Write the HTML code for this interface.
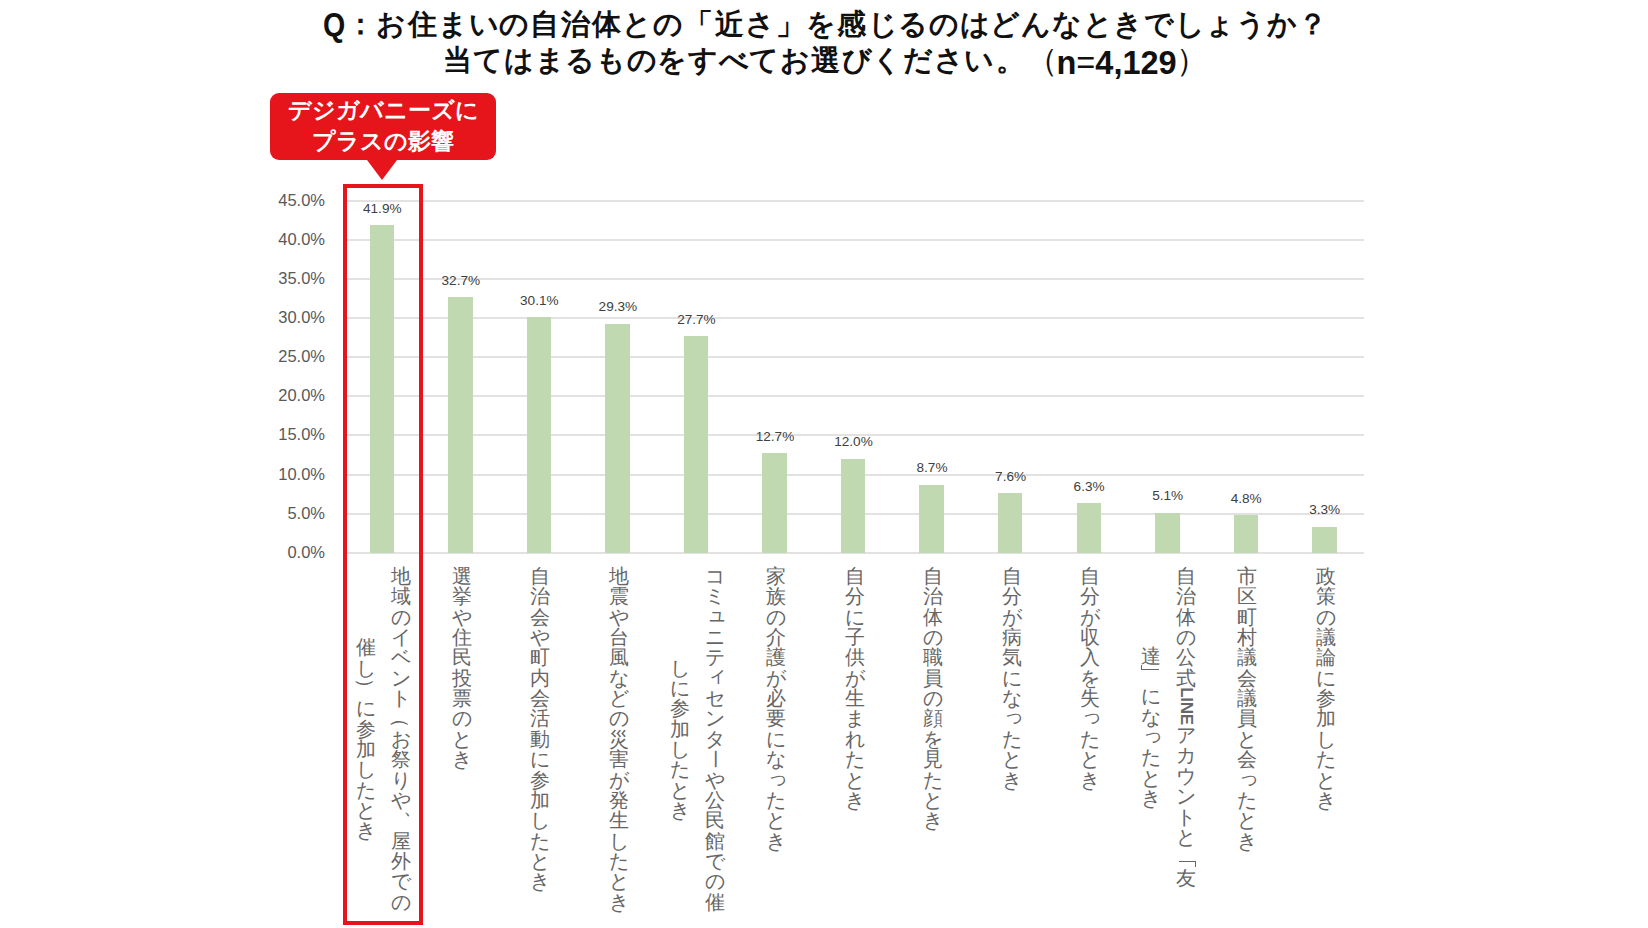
<!DOCTYPE html>
<html lang="ja"><head><meta charset="utf-8">
<style>
html,body{margin:0;padding:0;background:#fff;width:1648px;height:928px;overflow:hidden;position:relative;font-family:"Liberation Sans",sans-serif}
.t{position:absolute;font-weight:bold;color:#111;font-size:29px;letter-spacing:1.0px;white-space:nowrap;line-height:36px}
.tc{position:absolute;width:30.7px;text-align:center;font-weight:bold;color:#111;font-size:29px;line-height:36px;white-space:nowrap}
.nn{font-size:32.5px;letter-spacing:0}
.pp{font-weight:normal;font-size:32px;letter-spacing:0}
.gl{position:absolute;left:343.0px;width:1021.0px;height:2px;background:#e2e2e2}
.yl{position:absolute;left:250px;width:75px;text-align:right;font-size:16.5px;line-height:20px;color:#595959}
.bar{position:absolute;width:24.5px;background:#c1d9b0}
.dl{position:absolute;width:80px;text-align:center;font-size:13.6px;line-height:16px;color:#404040}
.vc{position:absolute;width:20.35px;height:20.35px;line-height:20.35px;text-align:center;font-size:20px;color:#666;white-space:nowrap}
.vc.rot{transform:rotate(90deg)}
.vc.cho{transform:rotate(90deg) scaleY(0.75)}
.brk{position:absolute;box-sizing:border-box}
.vc.com{transform:translate(12.5px,-13.5px)}
.vc.sm{transform:translate(2px,-3px)}
.vc.lat span{position:absolute;left:50%;top:50%;transform:translate(-50%,-50%) rotate(90deg);font-size:17px;font-weight:bold;line-height:20px;letter-spacing:-0.3px}
.box{position:absolute;left:343px;top:184px;width:72px;height:733px;border:4px solid #e5151b}
.bub{position:absolute;left:270px;top:93px;width:226px;height:67px;background:#e5151b;border-radius:9px}
.ptr{position:absolute;left:366.8px;top:159.5px;width:0;height:0;border-left:15.4px solid transparent;border-right:15.4px solid transparent;border-top:20px solid #e5151b}
.bt{position:absolute;left:270px;top:95px;width:226px;text-align:center;color:#fff;font-weight:bold;font-size:23px;line-height:31px}
</style></head><body>
<span class="tc nn" style="left:323px;top:7px;width:auto;transform:scaleX(0.88);transform-origin:0 0">Q</span><span class="tc" style="left:345.45px;top:6px">：</span><span class="tc" style="left:376.15px;top:6px">お</span><span class="tc" style="left:406.85px;top:6px">住</span><span class="tc" style="left:437.55px;top:6px">ま</span><span class="tc" style="left:468.25px;top:6px">い</span><span class="tc" style="left:498.95px;top:6px">の</span><span class="tc" style="left:529.65px;top:6px">自</span><span class="tc" style="left:560.35px;top:6px">治</span><span class="tc" style="left:591.05px;top:6px">体</span><span class="tc" style="left:621.75px;top:6px">と</span><span class="tc" style="left:652.45px;top:6px">の</span><span class="tc" style="left:683.15px;top:6px">「</span><span class="tc" style="left:713.85px;top:6px">近</span><span class="tc" style="left:744.55px;top:6px">さ</span><span class="tc" style="left:775.25px;top:6px">」</span><span class="tc" style="left:805.95px;top:6px">を</span><span class="tc" style="left:836.65px;top:6px">感</span><span class="tc" style="left:867.35px;top:6px">じ</span><span class="tc" style="left:898.05px;top:6px">る</span><span class="tc" style="left:928.75px;top:6px">の</span><span class="tc" style="left:959.45px;top:6px">は</span><span class="tc" style="left:990.15px;top:6px">ど</span><span class="tc" style="left:1020.85px;top:6px">ん</span><span class="tc" style="left:1051.55px;top:6px">な</span><span class="tc" style="left:1082.25px;top:6px">と</span><span class="tc" style="left:1112.95px;top:6px">き</span><span class="tc" style="left:1143.65px;top:6px">で</span><span class="tc" style="left:1174.35px;top:6px">し</span><span class="tc" style="left:1205.05px;top:6px">ょ</span><span class="tc" style="left:1235.75px;top:6px">う</span><span class="tc" style="left:1266.45px;top:6px">か</span><span class="tc" style="left:1297.15px;top:6px">？</span>
<span class="tc" style="left:442.15px;top:42px">当</span><span class="tc" style="left:472.85px;top:42px">て</span><span class="tc" style="left:503.55px;top:42px">は</span><span class="tc" style="left:534.25px;top:42px">ま</span><span class="tc" style="left:564.95px;top:42px">る</span><span class="tc" style="left:595.65px;top:42px">も</span><span class="tc" style="left:626.35px;top:42px">の</span><span class="tc" style="left:657.05px;top:42px">を</span><span class="tc" style="left:687.75px;top:42px">す</span><span class="tc" style="left:718.45px;top:42px">べ</span><span class="tc" style="left:749.15px;top:42px">て</span><span class="tc" style="left:779.85px;top:42px">お</span><span class="tc" style="left:810.55px;top:42px">選</span><span class="tc" style="left:841.25px;top:42px">び</span><span class="tc" style="left:871.95px;top:42px">く</span><span class="tc" style="left:902.65px;top:42px">だ</span><span class="tc" style="left:933.35px;top:42px">さ</span><span class="tc" style="left:964.05px;top:42px">い</span><span class="tc" style="left:994.75px;top:42px">。</span><span class="tc pp" style="left:1026.45px;top:42px">（</span><span class="tc nn" style="left:1056.5px;top:44.5px;width:auto">n<span style="font-weight:normal">=</span>4,129</span><span class="tc pp" style="left:1176px;top:42px">）</span>
<div class="gl" style="top:552px"></div>
<div class="yl" style="top:541.70px">0.0%</div>
<div class="gl" style="top:513px"></div>
<div class="yl" style="top:502.61px">5.0%</div>
<div class="gl" style="top:474px"></div>
<div class="yl" style="top:463.52px">10.0%</div>
<div class="gl" style="top:434px"></div>
<div class="yl" style="top:424.43px">15.0%</div>
<div class="gl" style="top:395px"></div>
<div class="yl" style="top:385.34px">20.0%</div>
<div class="gl" style="top:356px"></div>
<div class="yl" style="top:346.25px">25.0%</div>
<div class="gl" style="top:317px"></div>
<div class="yl" style="top:307.16px">30.0%</div>
<div class="gl" style="top:278px"></div>
<div class="yl" style="top:268.07px">35.0%</div>
<div class="gl" style="top:239px"></div>
<div class="yl" style="top:228.98px">40.0%</div>
<div class="gl" style="top:200px"></div>
<div class="yl" style="top:189.89px">45.0%</div>
<div class="bar" style="left:369.67px;top:225.13px;height:327.57px"></div>
<div class="dl" style="left:342.27px;top:200.63px">41.9%</div>
<span class="vc" style="left:390.59px;top:566.00px">地</span>
<span class="vc" style="left:390.59px;top:586.35px">域</span>
<span class="vc" style="left:390.59px;top:606.70px">の</span>
<span class="vc" style="left:390.59px;top:627.05px">イ</span>
<span class="vc" style="left:390.59px;top:647.40px">ベ</span>
<span class="vc" style="left:390.59px;top:667.75px">ン</span>
<span class="vc" style="left:390.59px;top:688.10px">ト</span>
<span class="vc rot" style="left:390.59px;top:708.45px">（</span>
<span class="vc" style="left:390.59px;top:728.80px">お</span>
<span class="vc" style="left:390.59px;top:749.15px">祭</span>
<span class="vc" style="left:390.59px;top:769.50px">り</span>
<span class="vc" style="left:390.59px;top:789.85px">や</span>
<span class="vc com" style="left:390.59px;top:810.20px">、</span>
<span class="vc" style="left:390.59px;top:830.55px">屋</span>
<span class="vc" style="left:390.59px;top:850.90px">外</span>
<span class="vc" style="left:390.59px;top:871.25px">で</span>
<span class="vc" style="left:390.59px;top:891.60px">の</span>
<span class="vc" style="left:355.59px;top:637.23px">催</span>
<span class="vc" style="left:355.59px;top:657.58px">し</span>
<span class="vc rot" style="left:355.59px;top:677.93px">）</span>
<span class="vc" style="left:355.59px;top:698.28px">に</span>
<span class="vc" style="left:355.59px;top:718.63px">参</span>
<span class="vc" style="left:355.59px;top:738.98px">加</span>
<span class="vc" style="left:355.59px;top:759.33px">し</span>
<span class="vc" style="left:355.59px;top:779.68px">た</span>
<span class="vc" style="left:355.59px;top:800.03px">と</span>
<span class="vc" style="left:355.59px;top:820.38px">き</span>
<div class="bar" style="left:448.21px;top:297.05px;height:255.65px"></div>
<div class="dl" style="left:420.81px;top:272.55px">32.7%</div>
<span class="vc" style="left:451.63px;top:566.00px">選</span>
<span class="vc" style="left:451.63px;top:586.35px">挙</span>
<span class="vc" style="left:451.63px;top:606.70px">や</span>
<span class="vc" style="left:451.63px;top:627.05px">住</span>
<span class="vc" style="left:451.63px;top:647.40px">民</span>
<span class="vc" style="left:451.63px;top:667.75px">投</span>
<span class="vc" style="left:451.63px;top:688.10px">票</span>
<span class="vc" style="left:451.63px;top:708.45px">の</span>
<span class="vc" style="left:451.63px;top:728.80px">と</span>
<span class="vc" style="left:451.63px;top:749.15px">き</span>
<div class="bar" style="left:526.75px;top:317.38px;height:235.32px"></div>
<div class="dl" style="left:499.35px;top:292.88px">30.1%</div>
<span class="vc" style="left:530.17px;top:566.00px">自</span>
<span class="vc" style="left:530.17px;top:586.35px">治</span>
<span class="vc" style="left:530.17px;top:606.70px">会</span>
<span class="vc" style="left:530.17px;top:627.05px">や</span>
<span class="vc" style="left:530.17px;top:647.40px">町</span>
<span class="vc" style="left:530.17px;top:667.75px">内</span>
<span class="vc" style="left:530.17px;top:688.10px">会</span>
<span class="vc" style="left:530.17px;top:708.45px">活</span>
<span class="vc" style="left:530.17px;top:728.80px">動</span>
<span class="vc" style="left:530.17px;top:749.15px">に</span>
<span class="vc" style="left:530.17px;top:769.50px">参</span>
<span class="vc" style="left:530.17px;top:789.85px">加</span>
<span class="vc" style="left:530.17px;top:810.20px">し</span>
<span class="vc" style="left:530.17px;top:830.55px">た</span>
<span class="vc" style="left:530.17px;top:850.90px">と</span>
<span class="vc" style="left:530.17px;top:871.25px">き</span>
<div class="bar" style="left:605.28px;top:323.63px;height:229.07px"></div>
<div class="dl" style="left:577.88px;top:299.13px">29.3%</div>
<span class="vc" style="left:608.71px;top:566.00px">地</span>
<span class="vc" style="left:608.71px;top:586.35px">震</span>
<span class="vc" style="left:608.71px;top:606.70px">や</span>
<span class="vc" style="left:608.71px;top:627.05px">台</span>
<span class="vc" style="left:608.71px;top:647.40px">風</span>
<span class="vc" style="left:608.71px;top:667.75px">な</span>
<span class="vc" style="left:608.71px;top:688.10px">ど</span>
<span class="vc" style="left:608.71px;top:708.45px">の</span>
<span class="vc" style="left:608.71px;top:728.80px">災</span>
<span class="vc" style="left:608.71px;top:749.15px">害</span>
<span class="vc" style="left:608.71px;top:769.50px">が</span>
<span class="vc" style="left:608.71px;top:789.85px">発</span>
<span class="vc" style="left:608.71px;top:810.20px">生</span>
<span class="vc" style="left:608.71px;top:830.55px">し</span>
<span class="vc" style="left:608.71px;top:850.90px">た</span>
<span class="vc" style="left:608.71px;top:871.25px">と</span>
<span class="vc" style="left:608.71px;top:891.60px">き</span>
<div class="bar" style="left:683.82px;top:336.14px;height:216.56px"></div>
<div class="dl" style="left:656.42px;top:311.64px">27.7%</div>
<span class="vc" style="left:704.75px;top:566.00px">コ</span>
<span class="vc" style="left:704.75px;top:586.35px">ミ</span>
<span class="vc sm" style="left:704.75px;top:606.70px">ュ</span>
<span class="vc" style="left:704.75px;top:627.05px">ニ</span>
<span class="vc" style="left:704.75px;top:647.40px">テ</span>
<span class="vc sm" style="left:704.75px;top:667.75px">ィ</span>
<span class="vc" style="left:704.75px;top:688.10px">セ</span>
<span class="vc" style="left:704.75px;top:708.45px">ン</span>
<span class="vc" style="left:704.75px;top:728.80px">タ</span>
<span class="vc cho" style="left:704.75px;top:749.15px">ー</span>
<span class="vc" style="left:704.75px;top:769.50px">や</span>
<span class="vc" style="left:704.75px;top:789.85px">公</span>
<span class="vc" style="left:704.75px;top:810.20px">民</span>
<span class="vc" style="left:704.75px;top:830.55px">館</span>
<span class="vc" style="left:704.75px;top:850.90px">で</span>
<span class="vc" style="left:704.75px;top:871.25px">の</span>
<span class="vc" style="left:704.75px;top:891.60px">催</span>
<span class="vc" style="left:669.75px;top:657.58px">し</span>
<span class="vc" style="left:669.75px;top:677.93px">に</span>
<span class="vc" style="left:669.75px;top:698.28px">参</span>
<span class="vc" style="left:669.75px;top:718.63px">加</span>
<span class="vc" style="left:669.75px;top:738.98px">し</span>
<span class="vc" style="left:669.75px;top:759.33px">た</span>
<span class="vc" style="left:669.75px;top:779.68px">と</span>
<span class="vc" style="left:669.75px;top:800.03px">き</span>
<div class="bar" style="left:762.36px;top:453.41px;height:99.29px"></div>
<div class="dl" style="left:734.96px;top:428.91px">12.7%</div>
<span class="vc" style="left:765.79px;top:566.00px">家</span>
<span class="vc" style="left:765.79px;top:586.35px">族</span>
<span class="vc" style="left:765.79px;top:606.70px">の</span>
<span class="vc" style="left:765.79px;top:627.05px">介</span>
<span class="vc" style="left:765.79px;top:647.40px">護</span>
<span class="vc" style="left:765.79px;top:667.75px">が</span>
<span class="vc" style="left:765.79px;top:688.10px">必</span>
<span class="vc" style="left:765.79px;top:708.45px">要</span>
<span class="vc" style="left:765.79px;top:728.80px">に</span>
<span class="vc" style="left:765.79px;top:749.15px">な</span>
<span class="vc sm" style="left:765.79px;top:769.50px">っ</span>
<span class="vc" style="left:765.79px;top:789.85px">た</span>
<span class="vc" style="left:765.79px;top:810.20px">と</span>
<span class="vc" style="left:765.79px;top:830.55px">き</span>
<div class="bar" style="left:840.90px;top:458.88px;height:93.82px"></div>
<div class="dl" style="left:813.50px;top:434.38px">12.0%</div>
<span class="vc" style="left:844.33px;top:566.00px">自</span>
<span class="vc" style="left:844.33px;top:586.35px">分</span>
<span class="vc" style="left:844.33px;top:606.70px">に</span>
<span class="vc" style="left:844.33px;top:627.05px">子</span>
<span class="vc" style="left:844.33px;top:647.40px">供</span>
<span class="vc" style="left:844.33px;top:667.75px">が</span>
<span class="vc" style="left:844.33px;top:688.10px">生</span>
<span class="vc" style="left:844.33px;top:708.45px">ま</span>
<span class="vc" style="left:844.33px;top:728.80px">れ</span>
<span class="vc" style="left:844.33px;top:749.15px">た</span>
<span class="vc" style="left:844.33px;top:769.50px">と</span>
<span class="vc" style="left:844.33px;top:789.85px">き</span>
<div class="bar" style="left:919.44px;top:484.68px;height:68.02px"></div>
<div class="dl" style="left:892.04px;top:460.18px">8.7%</div>
<span class="vc" style="left:922.86px;top:566.00px">自</span>
<span class="vc" style="left:922.86px;top:586.35px">治</span>
<span class="vc" style="left:922.86px;top:606.70px">体</span>
<span class="vc" style="left:922.86px;top:627.05px">の</span>
<span class="vc" style="left:922.86px;top:647.40px">職</span>
<span class="vc" style="left:922.86px;top:667.75px">員</span>
<span class="vc" style="left:922.86px;top:688.10px">の</span>
<span class="vc" style="left:922.86px;top:708.45px">顔</span>
<span class="vc" style="left:922.86px;top:728.80px">を</span>
<span class="vc" style="left:922.86px;top:749.15px">見</span>
<span class="vc" style="left:922.86px;top:769.50px">た</span>
<span class="vc" style="left:922.86px;top:789.85px">と</span>
<span class="vc" style="left:922.86px;top:810.20px">き</span>
<div class="bar" style="left:997.98px;top:493.28px;height:59.42px"></div>
<div class="dl" style="left:970.58px;top:468.78px">7.6%</div>
<span class="vc" style="left:1001.40px;top:566.00px">自</span>
<span class="vc" style="left:1001.40px;top:586.35px">分</span>
<span class="vc" style="left:1001.40px;top:606.70px">が</span>
<span class="vc" style="left:1001.40px;top:627.05px">病</span>
<span class="vc" style="left:1001.40px;top:647.40px">気</span>
<span class="vc" style="left:1001.40px;top:667.75px">に</span>
<span class="vc" style="left:1001.40px;top:688.10px">な</span>
<span class="vc sm" style="left:1001.40px;top:708.45px">っ</span>
<span class="vc" style="left:1001.40px;top:728.80px">た</span>
<span class="vc" style="left:1001.40px;top:749.15px">と</span>
<span class="vc" style="left:1001.40px;top:769.50px">き</span>
<div class="bar" style="left:1076.52px;top:503.45px;height:49.25px"></div>
<div class="dl" style="left:1049.12px;top:478.95px">6.3%</div>
<span class="vc" style="left:1079.94px;top:566.00px">自</span>
<span class="vc" style="left:1079.94px;top:586.35px">分</span>
<span class="vc" style="left:1079.94px;top:606.70px">が</span>
<span class="vc" style="left:1079.94px;top:627.05px">収</span>
<span class="vc" style="left:1079.94px;top:647.40px">入</span>
<span class="vc" style="left:1079.94px;top:667.75px">を</span>
<span class="vc" style="left:1079.94px;top:688.10px">失</span>
<span class="vc sm" style="left:1079.94px;top:708.45px">っ</span>
<span class="vc" style="left:1079.94px;top:728.80px">た</span>
<span class="vc" style="left:1079.94px;top:749.15px">と</span>
<span class="vc" style="left:1079.94px;top:769.50px">き</span>
<div class="bar" style="left:1155.05px;top:512.83px;height:39.87px"></div>
<div class="dl" style="left:1127.65px;top:488.33px">5.1%</div>
<span class="vc" style="left:1175.98px;top:566.00px">自</span>
<span class="vc" style="left:1175.98px;top:586.35px">治</span>
<span class="vc" style="left:1175.98px;top:606.70px">体</span>
<span class="vc" style="left:1175.98px;top:627.05px">の</span>
<span class="vc" style="left:1175.98px;top:647.40px">公</span>
<span class="vc" style="left:1175.98px;top:667.75px">式</span>
<span class="vc lat" style="left:1175.98px;top:687.10px;height:37px"><span>LINE</span></span>
<span class="vc" style="left:1175.98px;top:725.10px">ア</span>
<span class="vc" style="left:1175.98px;top:745.45px">カ</span>
<span class="vc" style="left:1175.98px;top:765.80px">ウ</span>
<span class="vc" style="left:1175.98px;top:786.15px">ン</span>
<span class="vc" style="left:1175.98px;top:806.50px">ト</span>
<span class="vc" style="left:1175.98px;top:826.85px">と</span>
<span class="brk" style="left:1178.65px;top:861.05px;width:17px;height:5.5px;border-top:1.4px solid #666;border-right:1.4px solid #666"></span>
<span class="vc" style="left:1175.98px;top:867.55px">友</span>
<span class="vc" style="left:1140.98px;top:645.55px">達</span>
<span class="brk" style="left:1141.15px;top:664.90px;width:17.5px;height:5.5px;border-bottom:1.4px solid #666;border-left:1.4px solid #666"></span>
<span class="vc" style="left:1140.98px;top:686.25px">に</span>
<span class="vc" style="left:1140.98px;top:706.60px">な</span>
<span class="vc sm" style="left:1140.98px;top:726.95px">っ</span>
<span class="vc" style="left:1140.98px;top:747.30px">た</span>
<span class="vc" style="left:1140.98px;top:767.65px">と</span>
<span class="vc" style="left:1140.98px;top:788.00px">き</span>
<div class="bar" style="left:1233.59px;top:515.17px;height:37.53px"></div>
<div class="dl" style="left:1206.19px;top:490.67px">4.8%</div>
<span class="vc" style="left:1237.02px;top:566.00px">市</span>
<span class="vc" style="left:1237.02px;top:586.35px">区</span>
<span class="vc" style="left:1237.02px;top:606.70px">町</span>
<span class="vc" style="left:1237.02px;top:627.05px">村</span>
<span class="vc" style="left:1237.02px;top:647.40px">議</span>
<span class="vc" style="left:1237.02px;top:667.75px">会</span>
<span class="vc" style="left:1237.02px;top:688.10px">議</span>
<span class="vc" style="left:1237.02px;top:708.45px">員</span>
<span class="vc" style="left:1237.02px;top:728.80px">と</span>
<span class="vc" style="left:1237.02px;top:749.15px">会</span>
<span class="vc sm" style="left:1237.02px;top:769.50px">っ</span>
<span class="vc" style="left:1237.02px;top:789.85px">た</span>
<span class="vc" style="left:1237.02px;top:810.20px">と</span>
<span class="vc" style="left:1237.02px;top:830.55px">き</span>
<div class="bar" style="left:1312.13px;top:526.90px;height:25.80px"></div>
<div class="dl" style="left:1284.73px;top:502.40px">3.3%</div>
<span class="vc" style="left:1315.56px;top:566.00px">政</span>
<span class="vc" style="left:1315.56px;top:586.35px">策</span>
<span class="vc" style="left:1315.56px;top:606.70px">の</span>
<span class="vc" style="left:1315.56px;top:627.05px">議</span>
<span class="vc" style="left:1315.56px;top:647.40px">論</span>
<span class="vc" style="left:1315.56px;top:667.75px">に</span>
<span class="vc" style="left:1315.56px;top:688.10px">参</span>
<span class="vc" style="left:1315.56px;top:708.45px">加</span>
<span class="vc" style="left:1315.56px;top:728.80px">し</span>
<span class="vc" style="left:1315.56px;top:749.15px">た</span>
<span class="vc" style="left:1315.56px;top:769.50px">と</span>
<span class="vc" style="left:1315.56px;top:789.85px">き</span>
<div class="box"></div>
<div class="bub"></div><div class="ptr"></div>
<div class="bt">デジガバニーズに<br>プラスの影響</div>
</body></html>
